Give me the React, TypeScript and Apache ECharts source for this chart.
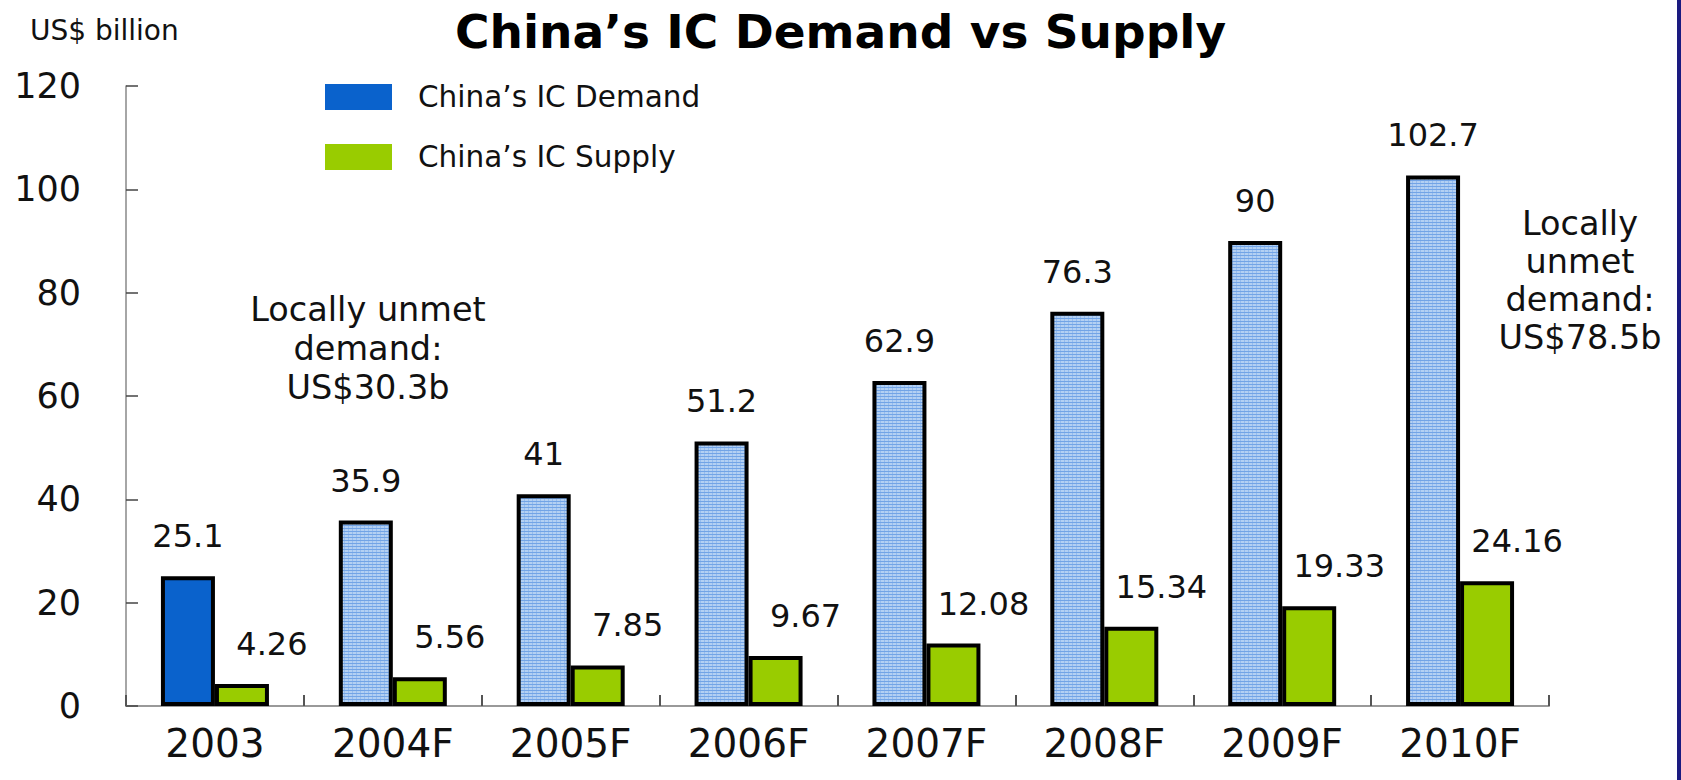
import React, { useEffect, useRef } from "react";
import * as echarts from "echarts";

const categories = ["2003", "2004F", "2005F", "2006F", "2007F", "2008F", "2009F", "2010F"];
const demandValues = [25.1, 35.9, 41, 51.2, 62.9, 76.3, 90, 102.7];
const supplyValues = [4.26, 5.56, 7.85, 9.67, 12.08, 15.34, 19.33, 24.16];
const yTicks = { min: 0, max: 120, interval: 20 };
const seriesNames = ["China’s IC Demand", "China’s IC Supply"];
const titleText = "China’s IC Demand vs Supply";
const unitText = "US$ billion";
const noteLeft = "Locally unmet\ndemand:\nUS$30.3b";
const noteRight = "Locally\nunmet\ndemand:\nUS$78.5b";

const FONT = "DejaVu Sans";
const DEMAND_SOLID = "#0a62cc";
const SUPPLY = "#99cc00";

function makePattern(): HTMLCanvasElement {
  const c = document.createElement("canvas");
  c.width = 4;
  c.height = 3;
  const ctx = c.getContext("2d")!;
  ctx.fillStyle = "#b3d0f3";
  ctx.fillRect(0, 0, 4, 3);
  ctx.fillStyle = "#96bcee";
  ctx.fillRect(0, 0, 1, 3);
  ctx.fillStyle = "#72a4e6";
  ctx.fillRect(0, 0, 4, 1);
  return c;
}

export default function App() {
  const ref = useRef<HTMLDivElement>(null);

  useEffect(() => {
    if (!ref.current) return;
    const chart = echarts.init(ref.current, undefined, { renderer: "svg" });
    const pattern = makePattern();
    const patternFill: any = { image: pattern, repeat: "repeat", imageWidth: 4, imageHeight: 3 };

    const labelStyle = {
      show: true,
      position: "top" as const,
      distance: 24,
      fontSize: 32,
      fontFamily: FONT,
      color: "#111",
    };

    const option: any = {
      animation: false,
      backgroundColor: "#ffffff",
      title: {
        text: titleText,
        left: "center",
        top: 8,
        padding: 0,
        textStyle: { fontFamily: FONT, fontWeight: "bold", fontSize: 47, color: "#000" },
      },
      legend: {
        orient: "vertical",
        left: 325,
        top: 82,
        itemWidth: 67,
        itemHeight: 26,
        itemGap: 30,
        padding: 0,
        selectedMode: false,
        textStyle: { fontFamily: FONT, fontSize: 29.5, color: "#111", padding: [0, 0, 0, 21] },
        data: [
          { name: seriesNames[0], icon: "rect", itemStyle: { color: DEMAND_SOLID, borderWidth: 0 } },
          { name: seriesNames[1], icon: "rect", itemStyle: { color: SUPPLY, borderWidth: 0 } },
        ],
      },
      grid: { left: 126, right: 132, top: 86, bottom: 74, containLabel: false },
      xAxis: {
        type: "category",
        data: categories,
        boundaryGap: true,
        axisLine: { show: true, lineStyle: { color: "#999", width: 2 } },
        axisTick: { show: true, inside: true, length: 11, lineStyle: { color: "#555", width: 2 } },
        axisLabel: { fontFamily: FONT, fontSize: 39, color: "#111", margin: 18 },
        splitLine: { show: false },
      },
      yAxis: {
        type: "value",
        min: yTicks.min,
        max: yTicks.max,
        interval: yTicks.interval,
        axisLine: { show: true, lineStyle: { color: "#888", width: 1.5 } },
        axisTick: { show: true, inside: true, length: 12, lineStyle: { color: "#444", width: 1.5 } },
        axisLabel: { fontFamily: FONT, fontSize: 35, color: "#111", margin: 45 },
        splitLine: { show: false },
      },
      series: [
        {
          name: seriesNames[0],
          type: "bar",
          barWidth: 54,
          barGap: "0%",
          itemStyle: { color: patternFill, borderColor: "#000", borderWidth: 4 },
          label: { ...labelStyle },
          data: demandValues.map((v, i) =>
            categories[i].endsWith("F") ? v : { value: v, itemStyle: { color: DEMAND_SOLID } }
          ),
        },
        {
          name: seriesNames[1],
          type: "bar",
          barWidth: 54,
          barGap: "0%",
          itemStyle: { color: SUPPLY, borderColor: "#000", borderWidth: 4 },
          label: { ...labelStyle, offset: [30, 0] },
          data: supplyValues,
        },
      ],
      graphic: [
        {
          type: "text",
          left: 30,
          top: 16,
          style: { text: unitText, fontFamily: FONT, fontSize: 28, fill: "#111" },
        },
        {
          type: "text",
          x: 368,
          y: 290,
          style: {
            text: noteLeft,
            fontFamily: FONT,
            fontSize: 33.5,
            lineHeight: 39,
            fill: "#111",
            align: "center",
            verticalAlign: "top",
            textAlign: "center",
            textVerticalAlign: "top",
          },
        },
        {
          type: "text",
          x: 1580,
          y: 204,
          style: {
            text: noteRight,
            fontFamily: FONT,
            fontSize: 33.5,
            lineHeight: 38,
            fill: "#111",
            align: "center",
            verticalAlign: "top",
            textAlign: "center",
            textVerticalAlign: "top",
          },
        },
        {
          type: "rect",
          shape: { x: 1677, y: 0, width: 4, height: 780 },
          style: { fill: "#1a1a80" },
        },
      ],
    };

    chart.setOption(option);
    return () => {
      chart.dispose();
    };
  }, []);

  return (
    <div
      ref={ref}
      style={{ position: "absolute", left: 0, top: 0, width: 1681, height: 780, background: "#fff" }}
    />
  );
}
